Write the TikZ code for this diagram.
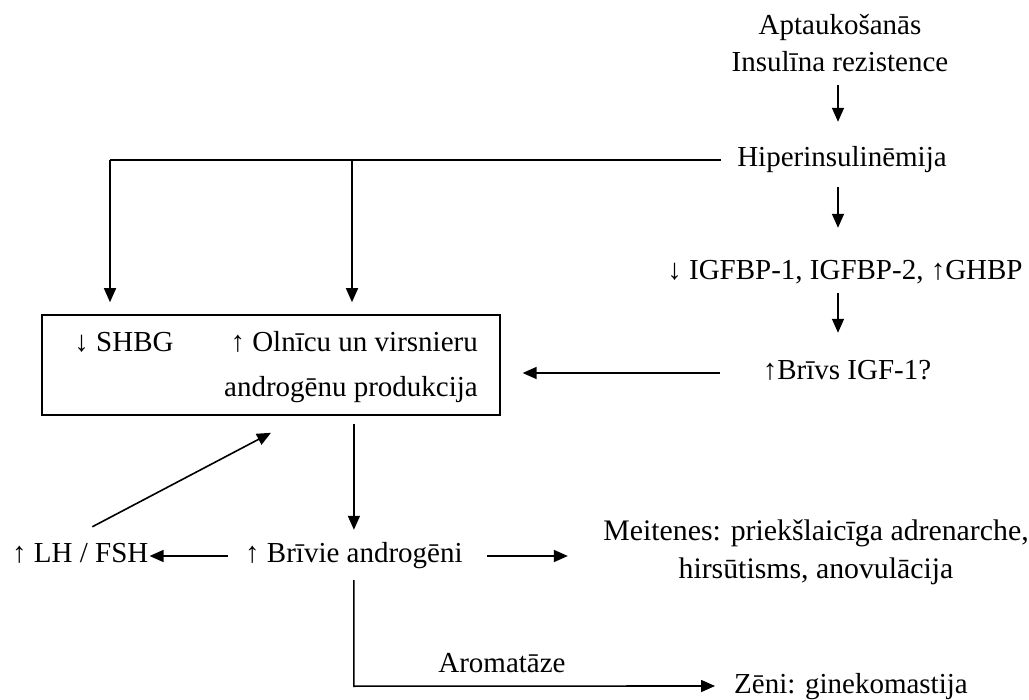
\documentclass[tikz,border=0pt]{standalone}
\usepackage{fontspec}
\setmainfont{Liberation Serif}
\usetikzlibrary{arrows.meta,calc}
\begin{document}
\begin{tikzpicture}[x=1pt,y=-1pt,
  txt/.style={inner sep=0pt,text height=20pt,text depth=6pt,font=\fontsize{29}{35}\selectfont},
  ln/.style={line width=1.6pt},
  arr/.style={line width=1.6pt,-{Triangle[length=14pt,width=12pt]}},
  boxst/.style={draw,line width=1.6pt,minimum width=458pt,minimum height=100pt,inner sep=0pt}]
\useasboundingbox[fill=white] (0,0) rectangle (1029,700);
\coordinate (col) at (838,0);
% nodes
\node[txt,anchor=base] (apt) at (840,35) {Aptaukošanās};
\node[txt,anchor=base] (ins) at (840,72) {Insulīna rezistence};
\node[txt,anchor=base] (hip) at (842,167) {Hiperinsulinēmija};
\node[txt,anchor=base] (igf) at (845,280) {↓ IGFBP-1, IGFBP-2, ↑GHBP};
\node[txt,anchor=base] (bri) at (847,380) {↑Brīvs IGF-1?};
\node[boxst] (box) at (271,365) {};
\node[txt,anchor=base] (shbg) at (124,352) {↓ SHBG};
\node[txt,anchor=base east] (oln) at (478,352) {↑ Olnīcu un virsnieru};
\node[txt,anchor=base east] (andr) at (478,397) {androgēnu produkcija};
\node[txt,anchor=base west] (lh) at (12,563) {↑ LH / FSH};
\node[txt,anchor=base west] (fa) at (245,563) {↑ Brīvie androgēni};
\node[txt,anchor=base,font=\fontsize{29.8}{35}\selectfont] (mei1) at (816,540) {Meitenes: priekšlaicīga adrenarche,};
\node[txt,anchor=base,font=\fontsize{29.8}{35}\selectfont] (mei2) at (816,579) {hirsūtisms, anovulācija};
\node[txt,anchor=base] (aro) at (502,672) {Aromatāze};
\node[txt,anchor=base west] (zen) at (734,693) {Zēni: ginekomastija};
\coordinate (j1) at (110,160);
\coordinate (j2) at (352,160);
% connectors
\draw[arr] ([yshift=-7pt]ins.south -| col) -- ([yshift=25pt]hip.north -| col);
\draw[arr] ([yshift=-14pt]hip.south -| col) -- ([yshift=32pt]igf.north -| col);
\draw[arr] ([yshift=-7pt]igf.south -| col) -- ([yshift=27pt]bri.north -| col);
\draw[ln] ([xshift=-16pt]hip.west) -- (j1);
\draw[arr] (j1) -- ([yshift=12pt]box.north -| j1);
\draw[arr] (j2) -- ([yshift=12pt]box.north -| j2);
\draw[arr] ([xshift=-43pt]bri.west) -- ++(-197,0);
\draw[arr] (fa.north |- box.south) ++(0,8) -- ([yshift=13pt]fa.north);
\draw[arr] ([xshift=12pt,yshift=16pt]lh.north) -- ([yshift=-17pt]box.south);
\draw[arr] ([xshift=-17pt]fa.west) -- ([xshift=1pt]lh.east);
\draw[arr] ([xshift=24pt]fa.east) -- ++(81,0);
\draw[arr] ([yshift=-11pt]fa.south) -- ++(0,106) -- ([xshift=-19pt]zen.west);
\end{tikzpicture}
\end{document}
